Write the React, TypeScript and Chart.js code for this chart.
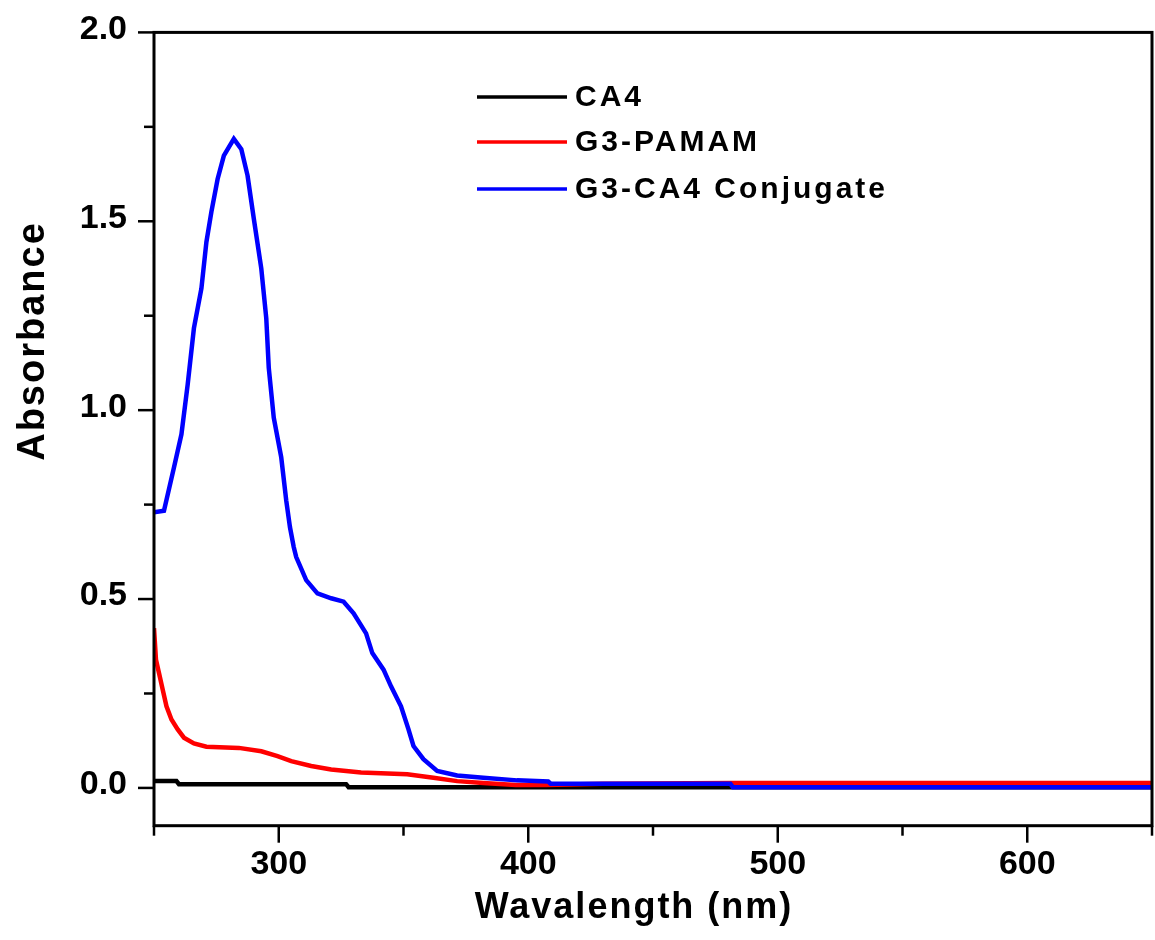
import React, { useEffect, useRef } from 'react';
import { Chart, registerables } from 'chart.js';

Chart.register(...registerables);

// ---- data ----
const caWavelength = [250, 259, 260, 327, 328, 650];
const caAbsorbance = [0.018, 0.018, 0.01, 0.01, 0.002, 0.002];

const pamamWavelength = [250, 250.8, 252, 253.5, 255, 257, 259.5, 262, 266, 271, 284, 293, 299.5, 305, 313, 321, 333, 351.5, 362, 371.5, 382, 395, 407, 430, 482, 650];
const pamamAbsorbance = [0.423, 0.339, 0.304, 0.26, 0.216, 0.181, 0.155, 0.133, 0.118, 0.109, 0.106, 0.097, 0.084, 0.071, 0.058, 0.049, 0.041, 0.036, 0.027, 0.018, 0.013, 0.008, 0.008, 0.011, 0.013, 0.013];

const conjWavelength = [250, 254, 258, 261, 263.5, 266, 269, 271, 273, 275.5, 278, 282, 285, 287.5, 290, 293, 295, 296, 298, 301, 303, 304.5, 306, 307, 311, 315.5, 321, 326, 330, 335, 337.5, 342, 345, 349, 352, 354, 358, 363.5, 371.5, 382, 395.5, 408, 409, 481, 482, 650];
const conjAbsorbance = [0.73, 0.734, 0.848, 0.936, 1.068, 1.217, 1.322, 1.445, 1.525, 1.612, 1.674, 1.718, 1.691, 1.621, 1.507, 1.375, 1.243, 1.112, 0.98, 0.875, 0.761, 0.69, 0.638, 0.611, 0.55, 0.515, 0.502, 0.493, 0.462, 0.409, 0.357, 0.313, 0.269, 0.216, 0.155, 0.111, 0.076, 0.045, 0.033, 0.027, 0.02, 0.017, 0.011, 0.011, 0.002, 0.002];

const seriesLabels = ['CA4', 'G3-PAMAM', 'G3-CA4 Conjugate'];
const seriesColors = ['#000000', '#ff0000', '#0000ff'];

// tick values (major ones get labels)
const xTickValues = [250, 300, 350, 400, 450, 500, 550, 600, 650];
const xLabelStep = 100;
const yTickValues = [0, 0.25, 0.5, 0.75, 1.0, 1.25, 1.5, 1.75, 2.0];
const yLabelStep = 0.5;

const xMin = 250;
const xMax = 650;
const yMin = -0.1;
const yMax = 2.0;

const xTitle = 'Wavalength (nm)';
const yTitle = 'Absorbance';

const FONT = "'Liberation Sans', Arial, Helvetica, sans-serif";

const toPoints = (xs: number[], ys: number[]) => xs.map((x, i) => ({ x, y: ys[i] }));

const isMultiple = (v: number, step: number) => {
  const q = v / step;
  return Math.abs(q - Math.round(q)) < 1e-6;
};

const decorPlugin = {
  id: 'decor',
  afterDraw(chart: any) {
    const { ctx, chartArea: a, scales } = chart;
    const x = scales.x;
    const y = scales.y;
    ctx.save();
    ctx.strokeStyle = '#000';
    ctx.lineCap = 'square';
    // frame
    ctx.lineWidth = 3;
    ctx.strokeRect(a.left, a.top, a.right - a.left, a.bottom - a.top);
    // y ticks
    ctx.lineCap = 'butt';
    ctx.lineWidth = 2.5;
    y.ticks.forEach((t: any) => {
      const v = t.value;
      const len = isMultiple(v, yLabelStep) ? 16 : 10;
      const py = y.getPixelForValue(v);
      ctx.beginPath();
      ctx.moveTo(a.left - len, py);
      ctx.lineTo(a.left, py);
      ctx.stroke();
    });
    // x ticks
    x.ticks.forEach((t: any) => {
      const v = t.value;
      const len = isMultiple(v, xLabelStep) ? 17 : 10;
      const px = x.getPixelForValue(v);
      ctx.beginPath();
      ctx.moveTo(px, a.bottom);
      ctx.lineTo(px, a.bottom + len);
      ctx.stroke();
    });

    // legend
    const legendLineX0 = 477;
    const legendLineX1 = 567;
    const legendTextX = 575;
    const legendRows = [97, 142, 189];
    ctx.font = `bold 30px ${FONT}`;
    ctx.textBaseline = 'middle';
    ctx.textAlign = 'left';
    (ctx as any).letterSpacing = '3px';
    chart.data.datasets.forEach((ds: any, i: number) => {
      const ly = legendRows[i];
      ctx.strokeStyle = ds.borderColor;
      ctx.lineWidth = 3.5;
      ctx.beginPath();
      ctx.moveTo(legendLineX0, ly);
      ctx.lineTo(legendLineX1, ly);
      ctx.stroke();
      ctx.fillStyle = '#000';
      ctx.fillText(ds.label, legendTextX, ly + 1);
    });

    // axis titles
    ctx.fillStyle = '#000';
    (ctx as any).letterSpacing = '2px';
    ctx.font = `bold 36px ${FONT}`;
    ctx.textAlign = 'center';
    ctx.textBaseline = 'alphabetic';
    ctx.fillText(xTitle, 634, 918);

    ctx.save();
    ctx.translate(44, 341);
    ctx.rotate(-Math.PI / 2);
    ctx.font = `bold 38px ${FONT}`;
    ctx.textAlign = 'center';
    ctx.textBaseline = 'alphabetic';
    ctx.fillText(yTitle, 0, 0);
    ctx.restore();

    (ctx as any).letterSpacing = '0px';
    ctx.restore();
  },
};

export default function App() {
  const ref = useRef<HTMLCanvasElement>(null);

  useEffect(() => {
    document.body.style.margin = '0';
    const canvas = ref.current;
    if (!canvas) return;

    const seriesX = [caWavelength, pamamWavelength, conjWavelength];
    const seriesY = [caAbsorbance, pamamAbsorbance, conjAbsorbance];

    const chart = new Chart(canvas, {
      type: 'line',
      data: {
        datasets: seriesLabels.map((label, i) => ({
          label,
          data: toPoints(seriesX[i], seriesY[i]),
          borderColor: seriesColors[i],
          backgroundColor: seriesColors[i],
          borderWidth: 4.5,
          pointRadius: 0,
          tension: 0,
          fill: false,
          order: seriesLabels.length - 1 - i,
        })),
      },
      options: {
        responsive: false,
        animation: false,
        events: [],
        layout: { padding: { left: 0, right: 3, top: 29.5, bottom: 0 } },
        plugins: {
          legend: { display: false },
          tooltip: { enabled: false },
          title: { display: false },
        },
        scales: {
          x: {
            type: 'linear',
            min: xMin,
            max: xMax,
            afterBuildTicks: (s: any) => {
              s.ticks = xTickValues.map((value) => ({ value }));
            },
            afterFit: (s: any) => {
              s.height = 114.3;
            },
            border: { display: false },
            grid: {
              display: true,
              drawOnChartArea: false,
              drawTicks: true,
              tickLength: 17,
              tickColor: 'rgba(0,0,0,0)',
            },
            ticks: {
              autoSkip: false,
              maxRotation: 0,
              padding: 2,
              color: '#000',
              font: { family: FONT, size: 34, weight: 'bold' },
              callback: (v: any) => (isMultiple(Number(v), xLabelStep) ? String(v) : ''),
            },
          },
          y: {
            type: 'linear',
            min: yMin,
            max: yMax,
            afterBuildTicks: (s: any) => {
              s.ticks = yTickValues.map((value) => ({ value }));
            },
            afterFit: (s: any) => {
              s.width = 154;
            },
            border: { display: false },
            grid: {
              display: true,
              drawOnChartArea: false,
              drawTicks: true,
              tickLength: 15,
              tickColor: 'rgba(0,0,0,0)',
            },
            ticks: {
              autoSkip: false,
              padding: 12,
              labelOffset: -3,
              color: '#000',
              font: { family: FONT, size: 34, weight: 'bold' },
              callback: (v: any) => {
                const n = Number(v);
                return isMultiple(n, yLabelStep) ? n.toFixed(1) : '';
              },
            },
          },
        },
      },
      plugins: [decorPlugin],
    } as any);

    return () => chart.destroy();
  }, []);

  return (
    <div style={{ width: 1155, height: 940 }}>
      <canvas ref={ref} width={1155} height={940} style={{ display: 'block' }} />
    </div>
  );
}
